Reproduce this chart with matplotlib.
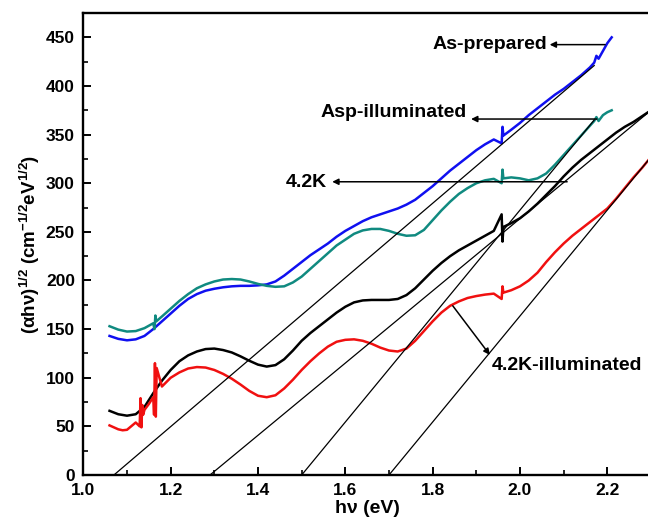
import matplotlib
matplotlib.use("Agg")
import matplotlib.pyplot as plt

plt.rcParams['font.family'] = ['Liberation Sans', 'DejaVu Sans']
plt.rcParams['font.weight'] = 'bold'
plt.rcParams['mathtext.fontset'] = 'custom'
plt.rcParams['mathtext.bf'] = 'Liberation Sans:bold'
plt.rcParams['mathtext.rm'] = 'Liberation Sans:bold'
plt.rcParams['mathtext.default'] = 'bf'

# ---- data ----
blue_x = [1.06, 1.08, 1.10, 1.12, 1.14, 1.16, 1.18, 1.20, 1.22, 1.24, 1.26, 1.28, 1.30, 1.32, 1.34,
          1.36, 1.38, 1.40, 1.42, 1.44, 1.46, 1.48, 1.50, 1.52, 1.54, 1.56, 1.58, 1.60, 1.62, 1.64,
          1.66, 1.68, 1.70, 1.72, 1.74, 1.76, 1.78, 1.80, 1.82, 1.84, 1.86, 1.88, 1.90, 1.92, 1.94,
          1.958, 1.960, 1.962, 1.98, 2.00, 2.02, 2.04, 2.06, 2.08, 2.10, 2.12, 2.14, 2.16, 2.17,
          2.175, 2.18, 2.19, 2.20, 2.21]
blue_y = [143, 140, 138.5, 139.5, 143, 150, 158, 166, 174, 181, 186, 189.5, 191.5, 193, 194,
          194.5, 194.5, 195, 196, 199, 205, 212, 219, 226, 232, 238, 245, 251, 256, 261,
          265, 268, 271, 274, 278, 283, 290, 297, 305, 313, 320, 327, 334, 340, 345,
          341, 358, 349, 355, 362, 370, 377, 384, 391, 397, 404, 411, 419, 424,
          431, 428, 436, 444, 450]

teal_x = [1.06, 1.08, 1.10, 1.12, 1.14, 1.16, 1.163, 1.165, 1.167, 1.18, 1.20, 1.22, 1.24, 1.26,
          1.28, 1.30, 1.32, 1.34, 1.36, 1.38, 1.40, 1.42, 1.44, 1.46, 1.48, 1.50, 1.52, 1.54, 1.56,
          1.58, 1.60, 1.62, 1.64, 1.66, 1.68, 1.70, 1.72, 1.74, 1.76, 1.78, 1.80, 1.82, 1.84, 1.86,
          1.88, 1.90, 1.92, 1.94, 1.958, 1.960, 1.962, 1.98, 2.00, 2.02, 2.04, 2.06, 2.08, 2.10,
          2.12, 2.14, 2.16, 2.17, 2.175, 2.18, 2.19, 2.20, 2.21]
teal_y = [153, 149.5, 147.5, 148, 151, 156, 150, 164, 158, 163, 171, 179, 186, 192,
          196, 199, 201, 201.5, 201, 199, 196.5, 194.5, 193.5, 194, 198, 204, 212, 220, 228,
          236, 242, 248, 251.5, 253, 253, 251, 248, 246, 246.5, 252, 262, 272, 281, 289,
          295, 300, 303, 304.5, 300, 314, 305, 306, 305, 303, 305, 310, 319, 329,
          339, 349, 359, 364, 368, 364, 370, 373, 375]

black_x = [1.06, 1.08, 1.10, 1.12, 1.14, 1.16, 1.18, 1.20, 1.22, 1.24, 1.26, 1.28, 1.30, 1.32,
           1.34, 1.36, 1.38, 1.40, 1.42, 1.44, 1.46, 1.48, 1.50, 1.52, 1.54, 1.56, 1.58, 1.60,
           1.62, 1.64, 1.66, 1.68, 1.70, 1.72, 1.74, 1.76, 1.78, 1.80, 1.82, 1.84, 1.86, 1.88,
           1.90, 1.92, 1.94, 1.958, 1.960, 1.962, 1.98, 2.00, 2.02, 2.04, 2.06, 2.08, 2.10,
           2.12, 2.14, 2.16, 2.18, 2.20, 2.22, 2.24, 2.26, 2.28, 2.30]
black_y = [66, 62.5, 61, 62.5, 70, 84, 97, 108, 117, 123, 127, 129.5, 130, 128.5,
           126, 122, 117.5, 113.5, 111.5, 113, 119, 128, 138, 146, 153, 160, 167, 173,
           177.5, 179.5, 180, 180, 180, 181, 185, 192, 201, 210, 218, 225, 231, 236,
           241, 246, 251, 268, 240, 255, 259, 264, 271, 279, 288, 297, 307,
           316, 324, 331, 338, 345, 352, 358, 363, 369, 375]

red_x = [1.06, 1.08, 1.09, 1.10, 1.12, 1.129, 1.131, 1.133, 1.135, 1.137, 1.14, 1.15, 1.160,
         1.162, 1.164, 1.166, 1.168, 1.18, 1.20, 1.22, 1.24, 1.26, 1.28, 1.30, 1.32, 1.34, 1.36,
         1.38, 1.40, 1.42, 1.44, 1.46, 1.48, 1.50, 1.52, 1.54, 1.56, 1.58, 1.60, 1.62, 1.64,
         1.66, 1.68, 1.70, 1.72, 1.74, 1.76, 1.78, 1.80, 1.82, 1.84, 1.86, 1.88, 1.90, 1.92,
         1.94, 1.958, 1.960, 1.962, 1.98, 2.00, 2.02, 2.04, 2.06, 2.08, 2.10, 2.12, 2.14, 2.16,
         2.18, 2.20, 2.22, 2.24, 2.26, 2.28, 2.30]
red_y = [51, 47, 46, 46.5, 54, 50, 79, 49, 72, 62, 67, 73, 80,
         62, 115, 60, 110, 91, 100, 105.5, 109.5, 111, 110.5, 108, 104, 99, 93,
         86.5, 81.5, 80, 82, 89, 98, 108, 117, 125, 132, 137, 139, 139.5, 138,
         135, 131, 128, 127, 130, 138, 148, 158, 167, 174, 178.5, 182, 184, 185.5,
         186.5, 181, 194, 187.5, 190, 194, 200, 208, 219, 229, 238, 246, 253, 260,
         267, 274, 284, 295, 306, 316, 327]

# tangent lines (start on the x-axis, end point)
tan_x0 = [1.07, 1.29, 1.50, 1.70]
tan_x1 = [2.17, 2.30, 2.17, 2.30]
tan_y1 = [421, 375, 365, 327]

labels = ['As-prepared', 'Asp-illuminated', '4.2K', '4.2K-illuminated']

fig = plt.figure(figsize=(6.48, 5.25), dpi=100)
ax = fig.add_axes([0.1286, 0.0952, 0.8760, 0.8800])

lw = 1.8
ax.plot(blue_x, blue_y, color='#1010f0', lw=lw)
ax.plot(teal_x, teal_y, color='#108a80', lw=lw)
ax.plot(black_x, black_y, color='black', lw=lw)
ax.plot(red_x, red_y, color='#f01010', lw=lw)

for x0, x1, y1 in zip(tan_x0, tan_x1, tan_y1):
    ax.plot([x0, x1], [0, y1], color='black', lw=0.9)

arrow_kw = dict(arrowstyle='-|>', color='black', lw=1.1, mutation_scale=9,
                shrinkA=0, shrinkB=0)
fs_ann = 14
ax.annotate('', xy=(2.068, 442.5), xytext=(2.195, 442.5), arrowprops=arrow_kw)
ax.text(2.062, 443, labels[0], ha='right', va='center', fontsize=fs_ann, fontweight='bold')

ax.annotate('', xy=(1.888, 366), xytext=(2.176, 366), arrowprops=arrow_kw)
ax.text(1.879, 373, labels[1], ha='right', va='center', fontsize=fs_ann, fontweight='bold')

ax.annotate('', xy=(1.570, 301.5), xytext=(2.108, 301.5), arrowprops=arrow_kw)
ax.text(1.557, 300.5, labels[2], ha='right', va='center', fontsize=fs_ann, fontweight='bold')

ax.annotate('', xy=(1.931, 123.5), xytext=(1.846, 174), arrowprops=arrow_kw)
ax.text(1.935, 113, labels[3], ha='left', va='center', fontsize=fs_ann, fontweight='bold')

ax.set_xlim(1.0, 2.3)
ax.set_ylim(0, 475)
ax.set_xticks([1.0, 1.2, 1.4, 1.6, 1.8, 2.0, 2.2])
ax.set_xticks([1.1, 1.3, 1.5, 1.7, 1.9, 2.1], minor=True)
ax.set_yticks([0, 50, 100, 150, 200, 250, 300, 350, 400, 450])
ax.set_yticks([25, 75, 125, 175, 225, 275, 325, 375, 425], minor=True)
ax.tick_params(which='major', direction='in', length=6, width=1.4, labelsize=12.5, pad=6)
ax.tick_params(which='minor', direction='in', length=3.5, width=1.2)
for lab in ax.get_xticklabels() + ax.get_yticklabels():
    lab.set_fontweight('bold')
for s in ax.spines.values():
    s.set_linewidth(1.7)

ax.set_xlabel('h\u03bd (eV)', fontsize=14, fontweight='bold', labelpad=1)
ax.set_ylabel('(\u03b1h\u03bd)$^{1/2}$ (cm$^{-1/2}$eV$^{1/2}$)', fontsize=13.5,
              fontweight='bold', labelpad=3)

fig.savefig('out.png', dpi=100)
